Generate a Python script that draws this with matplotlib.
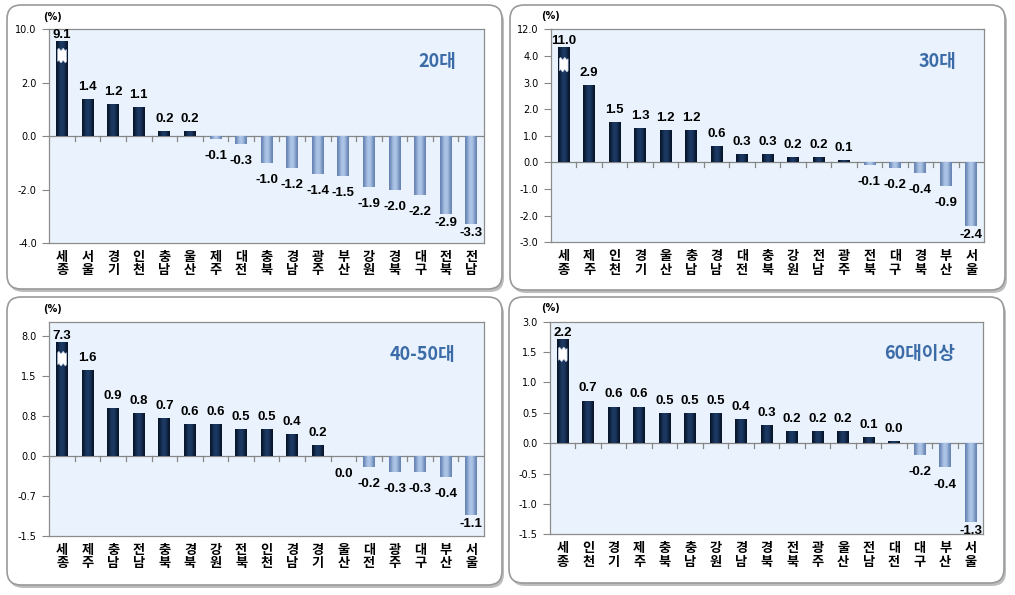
import numpy as np
import matplotlib.pyplot as plt
from matplotlib.patches import FancyBboxPatch, Polygon
from matplotlib.colors import LinearSegmentedColormap

plt.rcParams['font.family'] = ['DejaVu Sans']

W, H = 1015, 595

# ---- data ----
regions_20 = ['세종', '서울', '경기', '인천', '충남', '울산', '제주', '대전', '충북',
              '경남', '광주', '부산', '강원', '경북', '대구', '전북', '전남']
values_20 = [9.1, 1.4, 1.2, 1.1, 0.2, 0.2, -0.1, -0.3, -1.0, -1.2, -1.4, -1.5,
             -1.9, -2.0, -2.2, -2.9, -3.3]
yticks_20 = [-4, -2, 0, 2, 4]
yticklabels_20 = ['-4.0', '-2.0', '0.0', '2.0', '10.0']

regions_30 = ['세종', '제주', '인천', '경기', '울산', '충남', '경남', '대전', '충북',
              '강원', '전남', '광주', '전북', '대구', '경북', '부산', '서울']
values_30 = [11.0, 2.9, 1.5, 1.3, 1.2, 1.2, 0.6, 0.3, 0.3, 0.2, 0.2, 0.1,
             -0.1, -0.2, -0.4, -0.9, -2.4]
yticks_30 = [-3, -2, -1, 0, 1, 2, 3, 4, 5]
yticklabels_30 = ['-3.0', '-2.0', '-1.0', '0.0', '1.0', '2.0', '3.0', '4.0', '12.0']

regions_4050 = ['세종', '제주', '충남', '전남', '충북', '경북', '강원', '전북', '인천',
                '경남', '경기', '울산', '대전', '광주', '대구', '부산', '서울']
values_4050 = [7.3, 1.6, 0.9, 0.8, 0.7, 0.6, 0.6, 0.5, 0.5, 0.4, 0.2, -0.01,
               -0.2, -0.3, -0.3, -0.4, -1.1]
yticks_4050 = [-1.5, -0.75, 0, 0.75, 1.5, 2.25]
yticklabels_4050 = ['-1.5', '-0.7', '0.0', '0.8', '1.5', '8.0']

regions_60 = ['세종', '인천', '경기', '제주', '충북', '충남', '강원', '경남', '경북',
              '전북', '광주', '울산', '전남', '대전', '대구', '부산', '서울']
values_60 = [2.2, 0.7, 0.6, 0.6, 0.5, 0.5, 0.5, 0.4, 0.3, 0.2, 0.2, 0.2, 0.1,
             0.03, -0.2, -0.4, -1.3]
yticks_60 = [-1.5, -1.0, -0.5, 0, 0.5, 1.0, 1.5, 2.0]
yticklabels_60 = ['-1.5', '-1.0', '-0.5', '0.0', '0.5', '1.0', '1.5', '3.0']

# axis ranges and broken-axis height where the first bar is cut
ylims = [(-4, 4), (-3, 5), (-1.5, 2.5), (-1.5, 2.0)]
break_at = [3.55, 4.32, 2.14, 1.72]
titles = ['20대', '30대', '40-50대', '60대이상']

pos_cmap = LinearSegmentedColormap.from_list('pos', ['#07152A', '#1E3C68'])
neg_cmap = LinearSegmentedColormap.from_list('neg', ['#6683B2', '#B3CAEA'])
grad = np.array([[0.0, 0.75, 1.0, 0.75, 0.0]])

fig = plt.figure(figsize=(W / 100, H / 100), dpi=100)


def add_box(x0, y0, x1, y1):
    # pixel coords, top-left origin
    sh = FancyBboxPatch((x0 / 100 + 0.02, (H - y1) / 100 - 0.03), (x1 - x0) / 100, (y1 - y0) / 100,
                        boxstyle='round,pad=0,rounding_size=0.14', transform=fig.dpi_scale_trans,
                        facecolor='#BDBDBD', edgecolor='none', zorder=-3)
    fig.patches.append(sh)
    bx = FancyBboxPatch((x0 / 100, (H - y1) / 100), (x1 - x0) / 100, (y1 - y0) / 100,
                        boxstyle='round,pad=0,rounding_size=0.14', transform=fig.dpi_scale_trans,
                        facecolor='white', edgecolor='#9A9A9A', linewidth=1.2, zorder=-2)
    fig.patches.append(bx)


def make_axes(x0, y0, x1, y1):
    return fig.add_axes([x0 / W, (H - y1) / H, (x1 - x0) / W, (y1 - y0) / H])


def draw_panel(ax, regions, values, cap, ylim, yticks, yticklabels, title):
    n = len(values)
    x = np.arange(n)
    vals = np.array(values)
    shown = np.minimum(vals, cap)
    ymin, ymax = ylim
    span = ymax - ymin
    px_per_unit = ax.get_position().height * H / span
    ax.set_facecolor('#EAF3FD')

    bars = ax.bar(x, shown, width=0.46, color=['#11294A' if v >= 0 else '#8FAAD4' for v in vals],
                  linewidth=0, zorder=3)
    for b, v in zip(bars, vals):
        cmap = pos_cmap if v >= 0 else neg_cmap
        bx0, bw = b.get_x(), b.get_width()
        by0, bh = b.get_y(), b.get_height()
        im = ax.imshow(grad, cmap=cmap, vmin=0, vmax=1, interpolation='bicubic',
                       extent=(bx0, bx0 + bw, min(by0, by0 + bh), max(by0, by0 + bh)),
                       aspect='auto', zorder=3.2)
        im.set_clip_path(b)

    # break mark on the cut bar
    yc = shown[0] * 0.85
    hh = span * 0.028
    xs = np.linspace(-0.17, 0.17, 9)
    wave = np.array([0, 1, 0, -1, 0, 1, 0, -1, 0]) * span * 0.006
    top = np.column_stack([xs, yc + hh + wave])
    bot = np.column_stack([xs[::-1], yc - hh + wave[::-1]])
    ax.add_patch(Polygon(np.vstack([top, bot]), closed=True, facecolor='white',
                         edgecolor='#C8D4E4', linewidth=0.5, zorder=4))

    ax.axhline(0, color='#868686', lw=0.9, zorder=2.5)
    d = 5 / px_per_unit
    for bnd in np.arange(0.5, n - 1):
        ax.plot([bnd, bnd], [0, -d], color='#868686', lw=0.9, zorder=2.5)

    for k, (xi, v, s) in enumerate(zip(x, vals, shown)):
        txt = f'{v:.1f}'.replace('-0.0', '0.0')
        if v >= 0:
            off = 0 if k == 0 else 4.5
            ax.annotate(txt, (xi, s), xytext=(0, off), textcoords='offset points',
                        ha='center', va='bottom', fontsize=9.5, fontweight='bold',
                        family='Liberation Sans', zorder=5)
        else:
            # labels near the bottom of the plot area sit close to the bar end
            room = (s - ymin) * px_per_unit
            off = -8 if room > 36 else -2.2
            ax.annotate(txt, (xi, s), xytext=(0, off), textcoords='offset points',
                        ha='center', va='top', fontsize=9.5, fontweight='bold',
                        family='Liberation Sans', zorder=5)

    ax.set_xlim(-0.5, n - 0.5)
    ax.set_ylim(ymin, ymax)
    ax.set_xticks(x)
    ax.set_xticklabels([r[0] + '\n' + r[1] for r in regions], family='Noto Sans CJK KR',
                       fontweight='bold', fontsize=9.5, linespacing=0.95)
    ax.tick_params(axis='x', length=0, pad=5)
    ax.set_yticks(yticks)
    ax.set_yticklabels(yticklabels)
    ax.tick_params(axis='y', length=5, width=0.8, color='#868686', pad=4, labelsize=7)
    for sp in ax.spines.values():
        sp.set_color('#8C8C8C')
        sp.set_linewidth(0.9)

    ax.text(0.935, 0.85, title, transform=ax.transAxes, ha='right', va='center',
            fontsize=13, fontweight='bold', color='#3B6CA8', family='Noto Sans CJK KR', zorder=6)


add_box(7, 5, 502, 289)
add_box(510, 5, 1005, 290)
add_box(7, 297, 502, 585)
add_box(509, 297, 1004, 583)

panels = [
    (make_axes(49.3, 29.3, 484, 243), regions_20, values_20, yticks_20, yticklabels_20, (52, 17)),
    (make_axes(551, 29.3, 984, 242.3), regions_30, values_30, yticks_30, yticklabels_30, (551, 16)),
    (make_axes(49.3, 322.3, 484, 536), regions_4050, values_4050, yticks_4050, yticklabels_4050, (53, 309)),
    (make_axes(550, 321.7, 983.3, 534.3), regions_60, values_60, yticks_60, yticklabels_60, (551, 308)),
]

for i, (ax, reg, vals, yt, ytl, pct) in enumerate(panels):
    draw_panel(ax, reg, vals, break_at[i], ylims[i], yt, ytl, titles[i])
    fig.text(pct[0] / W, 1 - pct[1] / H, '(%)', ha='center', va='center', fontsize=7,
             fontweight='bold')

fig.savefig('out.png', dpi=100)
